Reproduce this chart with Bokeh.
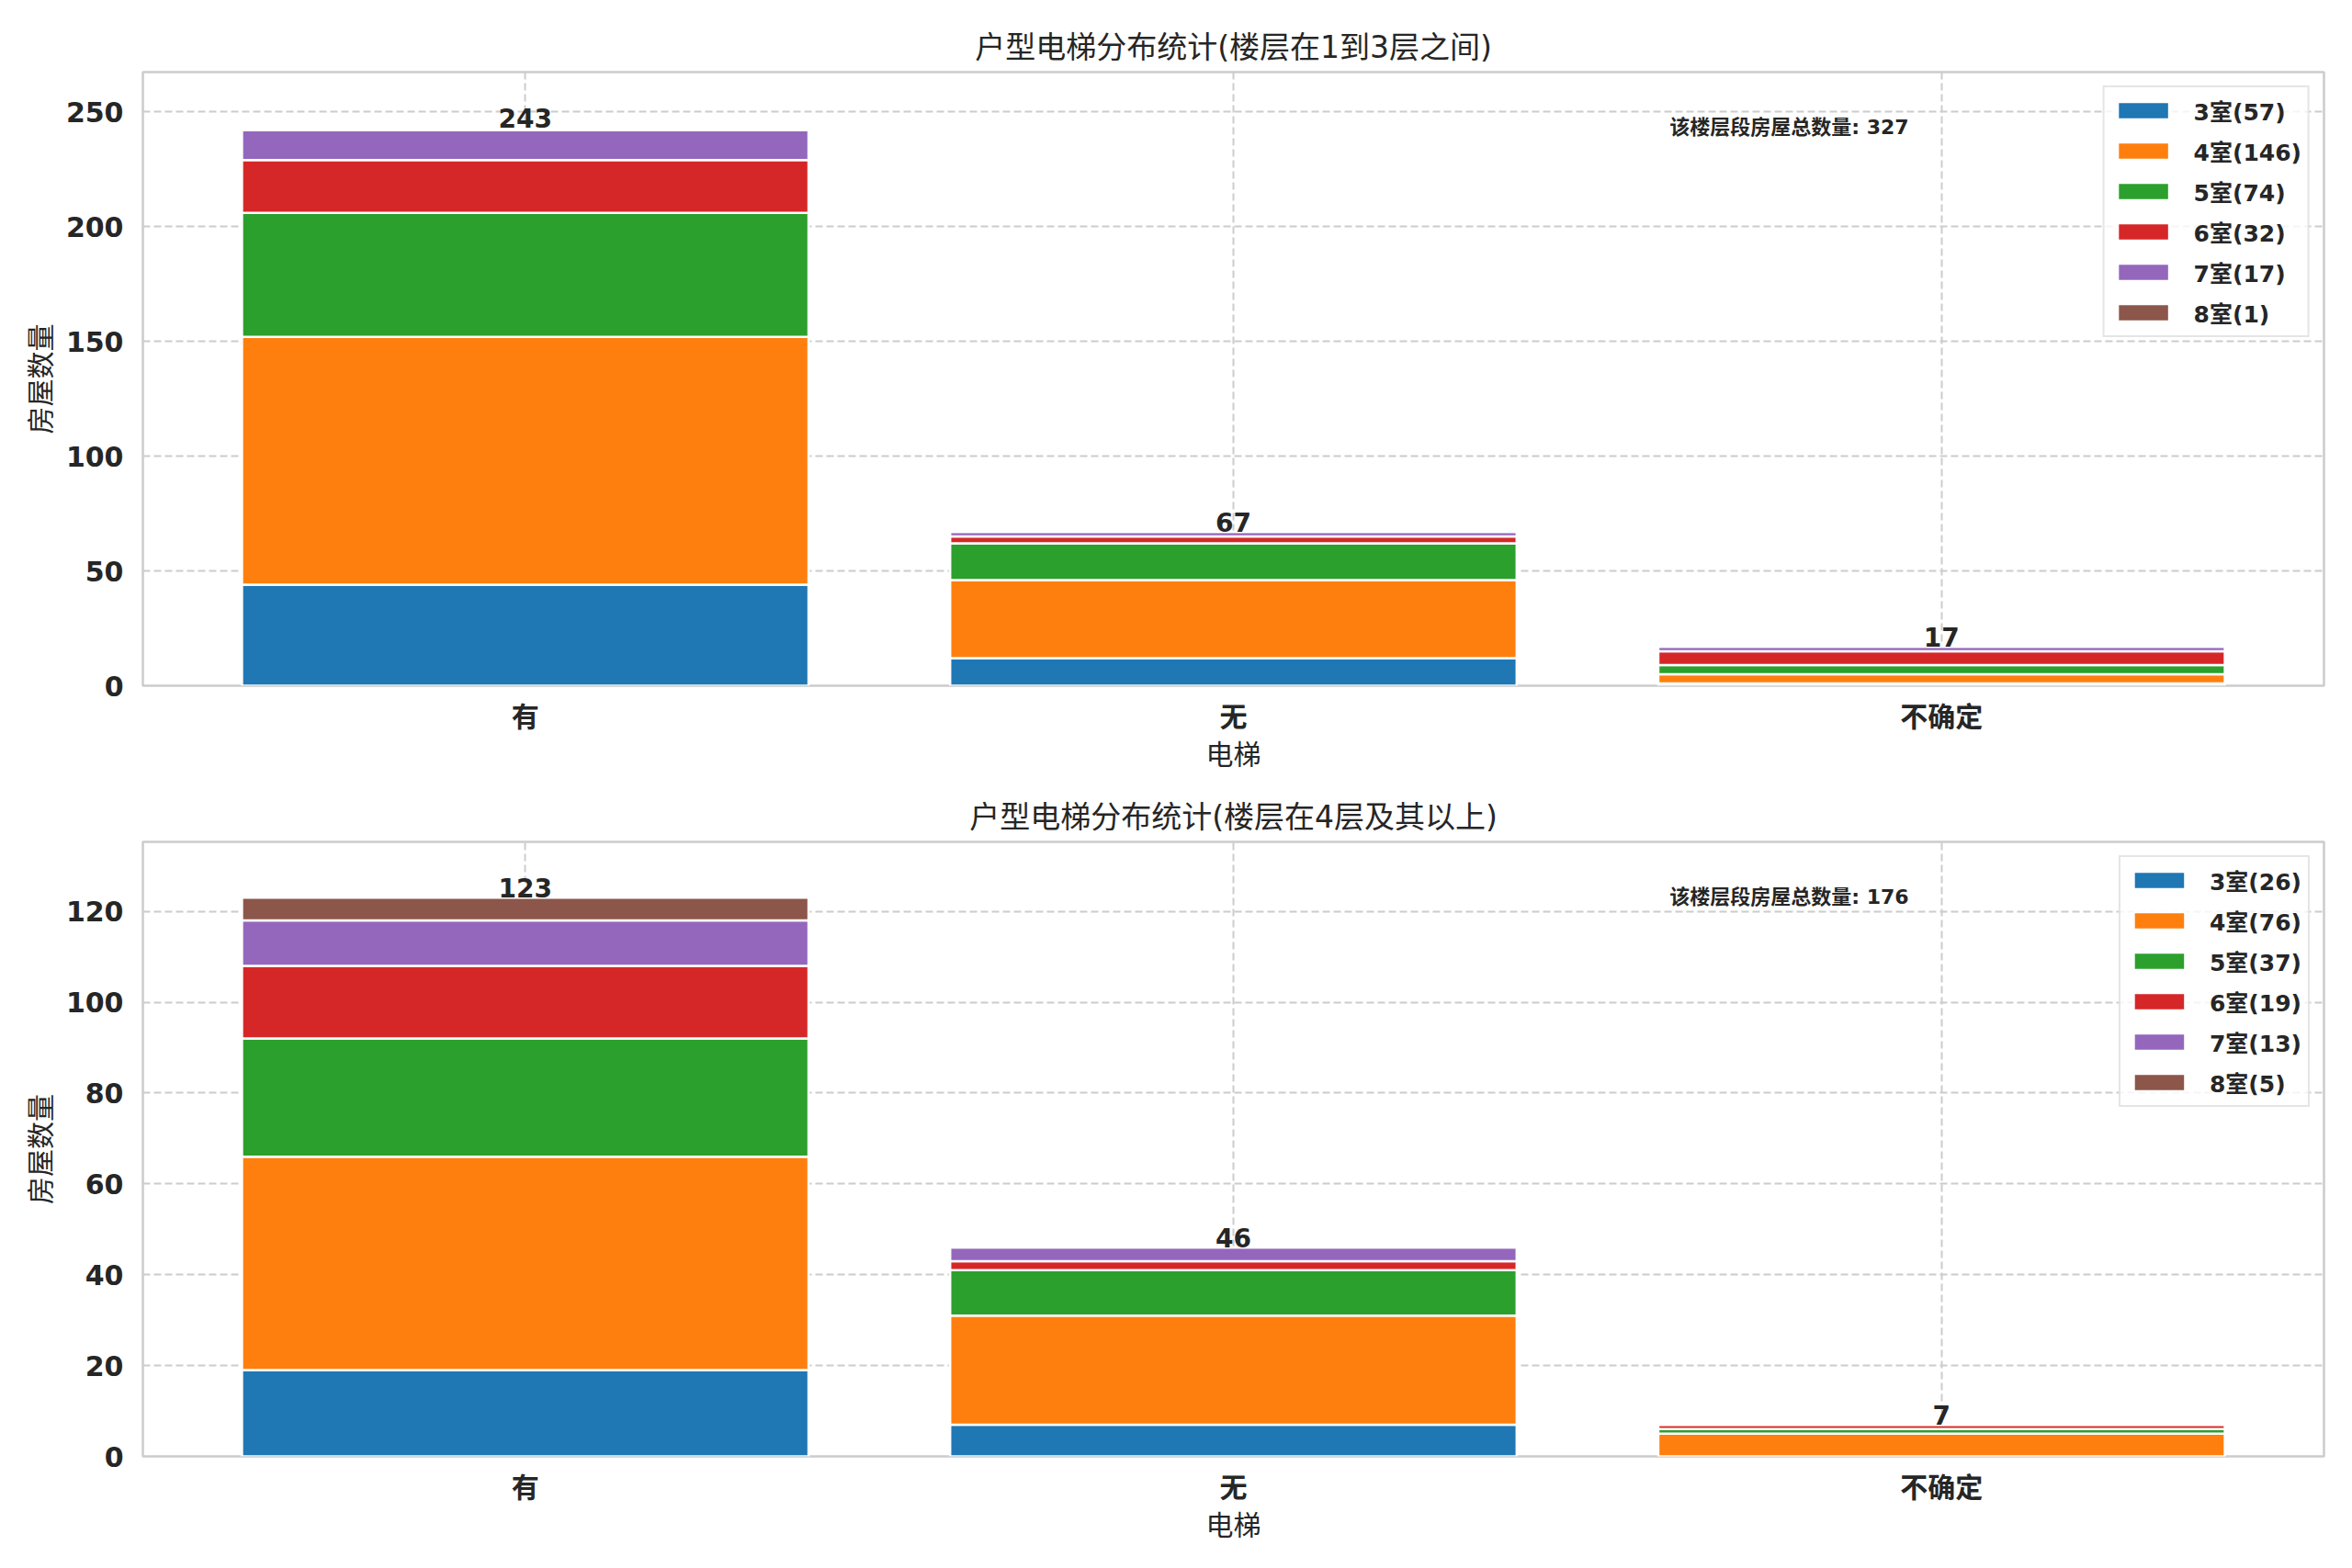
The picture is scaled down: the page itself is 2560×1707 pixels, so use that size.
from bokeh.plotting import figure
from bokeh.models import Range1d, FixedTicker, Label, ColumnDataSource
from bokeh.layouts import column
from bokeh.embed import file_html
from bokeh.resources import INLINE
from bokeh.core.properties import value

# ---------------- data ----------------
categories = ["有", "无", "不确定"]
room_types = ["3室", "4室", "5室", "6室", "7室", "8室"]
colors = ["#1f77b4", "#ff7f0e", "#2ca02c", "#d62728", "#9467bd", "#8c564b"]

# floors 1-3
low_3 = [44, 12, 1]
low_4 = [108, 34, 4]
low_5 = [54, 16, 4]
low_6 = [23, 3, 6]
low_7 = [13, 2, 2]
low_8 = [1, 0, 0]

# floors 4+
high_3 = [19, 7, 0]
high_4 = [47, 24, 5]
high_5 = [26, 10, 1]
high_6 = [16, 2, 1]
high_7 = [10, 3, 0]
high_8 = [5, 0, 0]

low_yticks = [0, 50, 100, 150, 200, 250]
high_yticks = [0, 20, 40, 60, 80, 100, 120]

title_low = "户型电梯分布统计(楼层在1到3层之间)"
title_high = "户型电梯分布统计(楼层在4层及其以上)"
x_label = "电梯"
y_label = "房屋数量"
total_prefix = "该楼层段房屋总数量"

FONT = "'DejaVu Sans', 'Noto Sans CJK SC', sans-serif"
TXT = "#262626"
GRAY = "#cccccc"


def make_chart(series, title, yticks, b_top, b_bottom, f_height):
    x_pos = list(range(len(categories)))
    keys = [f"r{i}" for i in range(len(series))]
    data = {"x": x_pos}
    for k, s in zip(keys, series):
        data[k] = s
    source = ColumnDataSource(data)
    totals = [sum(v) for v in zip(*series)]
    grand = sum(totals)
    ymax = max(totals) * 1.1

    p = figure(frame_width=2374, frame_height=f_height,
               x_range=Range1d(-0.54, 2.54), y_range=Range1d(0, ymax),
               output_backend="svg", toolbar_location=None,
               min_border_left=155, min_border_right=15,
               min_border_top=b_top, min_border_bottom=b_bottom,
               background_fill_color="white", border_fill_color="white")

    p.title.text = title
    p.title.align = "center"
    p.title.text_font = FONT
    p.title.text_font_size = "33px"
    p.title.text_font_style = "normal"
    p.title.text_color = TXT
    p.title.standoff = 15

    labels = [f"{r}({sum(s)})" for r, s in zip(room_types, series)]
    p.vbar_stack(keys, x="x", width=0.8, source=source, fill_color=colors,
                 line_color="white", line_width=2.5, legend_label=labels)

    p.text(x=x_pos, y=totals, text=[str(t) for t in totals],
           text_align="center", text_baseline="bottom",
           text_font=value(FONT), text_font_size="28px",
           text_font_style="bold", text_color=TXT)

    p.add_layout(Label(x=1.616, y=0.91 * ymax, text=f"{total_prefix}: {grand}",
                       text_baseline="middle", text_align="left",
                       text_font=FONT, text_font_size="22px",
                       text_font_style="bold", text_color=TXT))

    # axes
    p.xaxis.ticker = FixedTicker(ticks=x_pos)
    p.xaxis.major_label_overrides = {i: c for i, c in enumerate(categories)}
    p.yaxis.ticker = FixedTicker(ticks=yticks)
    for ax in (p.xaxis[0], p.yaxis[0]):
        ax.axis_line_color = None
        ax.major_tick_line_color = None
        ax.minor_tick_line_color = None
        ax.major_label_text_font = FONT
        ax.major_label_text_font_size = "30px"
        ax.major_label_text_font_style = "bold"
        ax.major_label_text_color = TXT
        ax.axis_label_text_font = FONT
        ax.axis_label_text_font_size = "30px"
        ax.axis_label_text_font_style = "normal"
        ax.axis_label_text_color = TXT
    p.xaxis.major_label_standoff = 10
    p.xaxis.axis_label_standoff = 3
    p.yaxis.major_label_standoff = 15
    p.yaxis.axis_label_standoff = 7
    p.xaxis.axis_label = x_label
    p.yaxis.axis_label = y_label

    p.grid.grid_line_color = GRAY
    p.grid.grid_line_width = 2
    p.grid.grid_line_dash = "8 4"
    p.outline_line_color = GRAY
    p.outline_line_width = 2.5

    lg = p.legend[0]
    lg.location = "top_right"
    lg.margin = 15
    lg.padding = 7
    lg.spacing = 8
    lg.glyph_width = 70
    lg.glyph_height = 24
    lg.label_height = 30
    lg.label_standoff = 20
    lg.label_text_font = FONT
    lg.label_text_font_size = "25px"
    lg.label_text_font_style = "bold"
    lg.label_text_color = TXT
    lg.background_fill_color = "white"
    lg.background_fill_alpha = 0.8
    lg.border_line_color = GRAY
    lg.border_line_width = 2
    return p


p1 = make_chart([low_3, low_4, low_5, low_6, low_7, low_8], title_low, low_yticks, 78, 99, 668)
p2 = make_chart([high_3, high_4, high_5, high_6, high_7, high_8], title_high, high_yticks, 71, 106, 669)

layout = column(p1, p2, spacing=0)
open("out.html", "w").write(file_html(layout, INLINE))
